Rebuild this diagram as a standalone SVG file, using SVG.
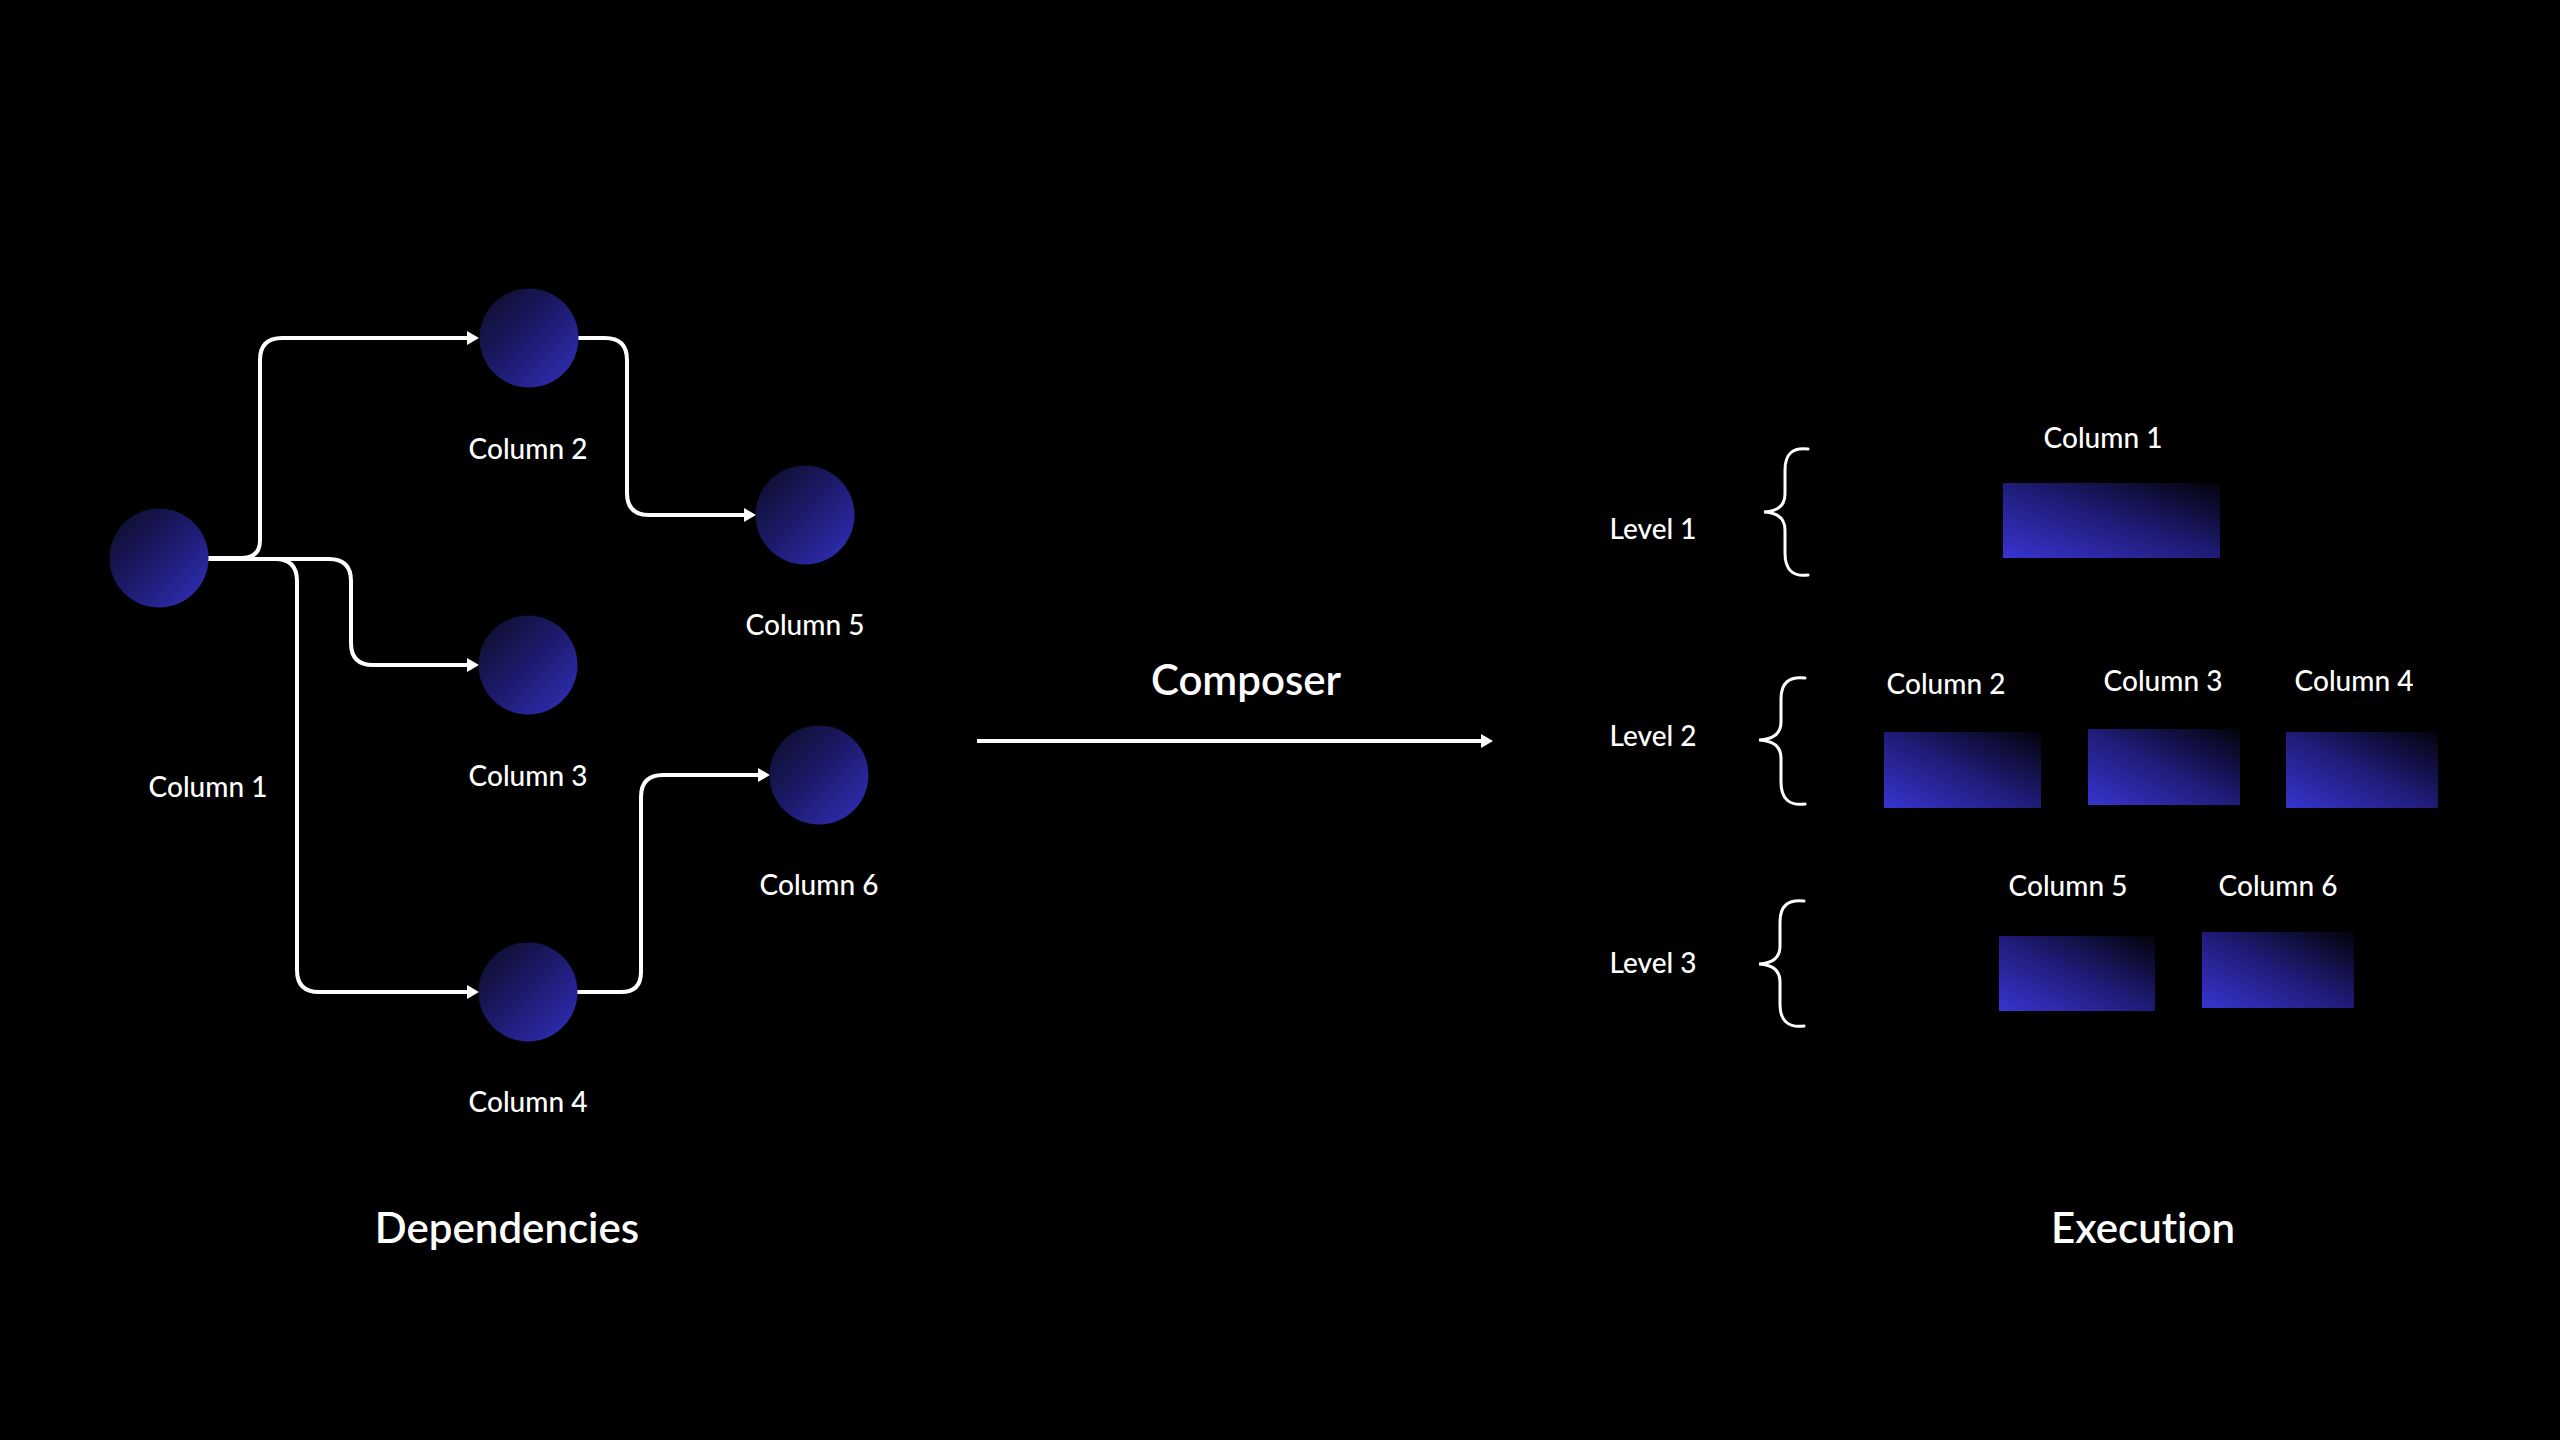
<svg xmlns="http://www.w3.org/2000/svg" width="2560" height="1440" viewBox="0 0 2560 1440">
  <defs>
    <linearGradient id="gCircle" x1="0" y1="0" x2="1" y2="1">
      <stop offset="0" stop-color="#0c0c22"/>
      <stop offset="0.5" stop-color="#1d1b6e"/>
      <stop offset="1" stop-color="#3230bd"/>
    </linearGradient>
    <linearGradient id="gRect" x1="0" y1="1" x2="1" y2="0">
      <stop offset="0" stop-color="#3834d0"/>
      <stop offset="0.5" stop-color="#1f1c78"/>
      <stop offset="1" stop-color="#03030a"/>
    </linearGradient>
    <marker id="arrow" viewBox="0 0 12 14" refX="4" refY="7" markerWidth="12" markerHeight="14" markerUnits="userSpaceOnUse" orient="auto">
      <path d="M0,0 L12,7 L0,14 z" fill="#ffffff"/>
    </marker>
    <style>
      .lbl { font-family: Lato, "Open Sans", sans-serif; font-size: 28px; font-weight: 500; fill: #ffffff; text-anchor: middle; font-variant-ligatures: none; }
      .title { font-family: Lato, "Open Sans", sans-serif; font-size: 42px; font-weight: 600; fill: #ffffff; text-anchor: middle; font-variant-ligatures: none; }
      .node { fill: url(#gCircle); }
      .blk { fill: url(#gRect); }
      .conn { fill: none; stroke: #ffffff; stroke-width: 4; stroke-linejoin: round; }
      .brace { fill: none; stroke: #ffffff; stroke-width: 3; stroke-linecap: round; }
    </style>
  </defs>
  <rect x="0" y="0" width="2560" height="1440" fill="#000000"/>

  <g id="connectors">
    <path class="conn" marker-end="url(#arrow)" d="M 205 558 H 242 Q 260 558 260 540 V 360 Q 260 338 282 338 H 471"/>
    <path class="conn" marker-end="url(#arrow)" d="M 205 559 H 329 Q 351 559 351 581 V 643 Q 351 665 373 665 H 471"/>
    <path class="conn" marker-end="url(#arrow)" d="M 205 559 H 275 Q 297 559 297 581 V 970 Q 297 992 319 992 H 471"/>
    <path class="conn" marker-end="url(#arrow)" d="M 576 338 H 605 Q 627 338 627 360 V 493 Q 627 515 649 515 H 748"/>
    <path class="conn" marker-end="url(#arrow)" d="M 576 992 H 621 Q 641 992 641 972 V 797 Q 641 775 663 775 H 762"/>
    <path class="conn" marker-end="url(#arrow)" d="M 977 741 H 1485"/>
  </g>

  <g id="node-col1"><circle class="node" cx="159" cy="558" r="49.5"/><text class="lbl" x="208" y="797">Column 1</text></g>
  <g id="node-col2"><circle class="node" cx="529" cy="338" r="49.5"/><text class="lbl" x="528" y="459">Column 2</text></g>
  <g id="node-col3"><circle class="node" cx="528" cy="665" r="49.5"/><text class="lbl" x="528" y="786">Column 3</text></g>
  <g id="node-col4"><circle class="node" cx="528" cy="992" r="49.5"/><text class="lbl" x="528" y="1112">Column 4</text></g>
  <g id="node-col5"><circle class="node" cx="805" cy="515" r="49.5"/><text class="lbl" x="805" y="635">Column 5</text></g>
  <g id="node-col6"><circle class="node" cx="819" cy="775" r="49.5"/><text class="lbl" x="819" y="895">Column 6</text></g>

  <g id="label-composer"><text class="title" x="1246" y="695">Composer</text></g>
  <g id="label-dependencies"><text class="title" x="507" y="1243">Dependencies</text></g>
  <g id="label-execution"><text class="title" x="2143" y="1243">Execution</text></g>

  <g id="level1">
    <text class="lbl" x="1653" y="539">Level 1</text>
    <path class="brace" d="M 1808 449 Q 1785 446 1785 470 L 1785 494 Q 1785 511 1764 512 Q 1785 513 1785 530 L 1785 553 Q 1785 578 1808 575"/>
  </g>
  <g id="level2">
    <text class="lbl" x="1653" y="746">Level 2</text>
    <path class="brace" d="M 1805 678 Q 1781 675 1781 699 L 1781 722 Q 1781 739 1759 740 Q 1781 741 1781 758 L 1781 782 Q 1781 807 1805 804"/>
  </g>
  <g id="level3">
    <text class="lbl" x="1653" y="973">Level 3</text>
    <path class="brace" d="M 1804 901 Q 1780 898 1780 922 L 1780 946 Q 1780 963 1759 964 Q 1780 965 1780 982 L 1780 1004 Q 1780 1029 1804 1026"/>
  </g>

  <g id="exec-col1"><rect class="blk" x="2003" y="483" width="217" height="75"/><text class="lbl" x="2103" y="448">Column 1</text></g>
  <g id="exec-col2"><rect class="blk" x="1884" y="732" width="157" height="76"/><text class="lbl" x="1946" y="694">Column 2</text></g>
  <g id="exec-col3"><rect class="blk" x="2088" y="729" width="152" height="76"/><text class="lbl" x="2163" y="691">Column 3</text></g>
  <g id="exec-col4"><rect class="blk" x="2286" y="732" width="152" height="76"/><text class="lbl" x="2354" y="691">Column 4</text></g>
  <g id="exec-col5"><rect class="blk" x="1999" y="936" width="156" height="75"/><text class="lbl" x="2068" y="896">Column 5</text></g>
  <g id="exec-col6"><rect class="blk" x="2202" y="932" width="152" height="76"/><text class="lbl" x="2278" y="896">Column 6</text></g>
</svg>
